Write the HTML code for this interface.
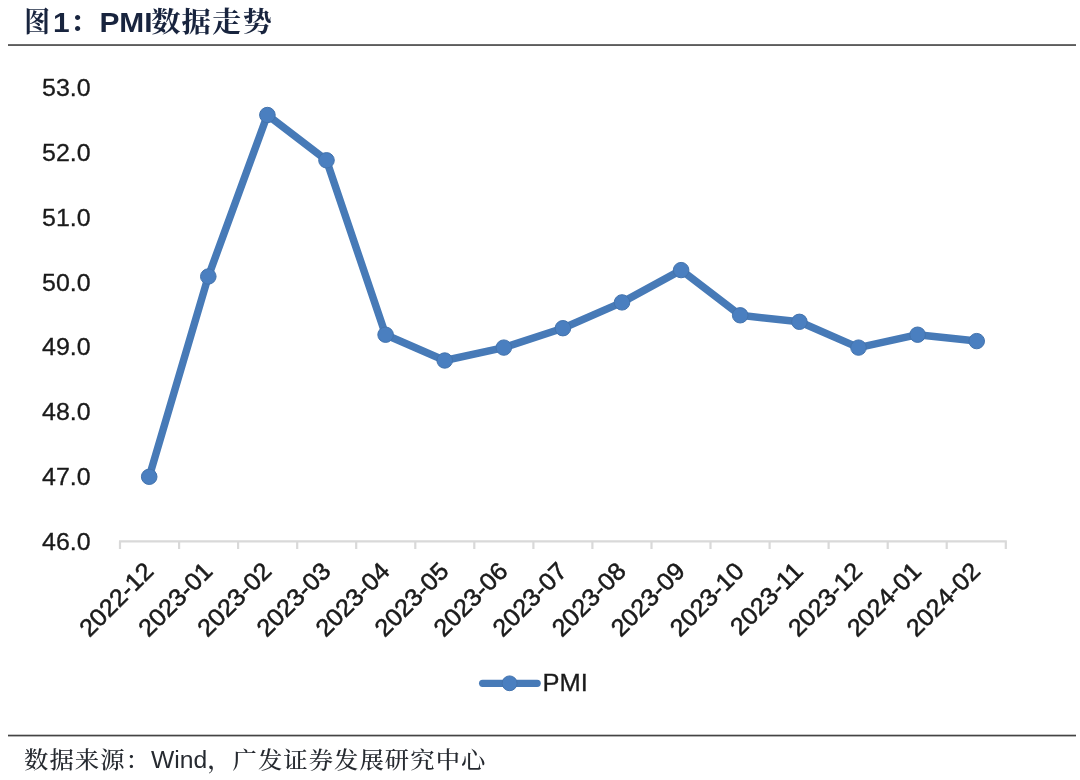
<!DOCTYPE html>
<html lang="zh-CN">
<head>
<meta charset="utf-8">
<title>图1：PMI数据走势</title>
<style>
html,body{margin:0;padding:0;background:#fff;}
body{width:1080px;height:780px;overflow:hidden;font-family:"Liberation Sans","Noto Serif CJK SC",sans-serif;}
svg{display:block;}
svg text{white-space:pre;}
svg text.ax{font-family:"Liberation Sans",sans-serif;font-size:24px;fill:#1a1a1a;stroke:#1a1a1a;stroke-width:0.3px;}
svg text.title{font-family:"Liberation Sans","Noto Serif CJK SC",serif;font-weight:bold;fill:#18243e;}
svg .tc{font-size:28px;letter-spacing:1px;}
svg .tl{font-size:28.5px;}
svg text.src{font-family:"Liberation Sans","Noto Serif CJK SC",serif;font-size:23.2px;letter-spacing:1px;fill:#262a30;font-weight:500;}
svg .sl{font-size:23.5px;letter-spacing:0;font-weight:400;}
</style>
</head>
<body>
<svg width="1080" height="780" viewBox="0 0 1080 780">
<text transform="translate(24.3 31.8) scale(0.92 1)" class="title"><tspan class="tc">图</tspan></text><text transform="translate(53.05 32.4) scale(1.05 1)" class="title"><tspan class="tl">1</tspan><tspan class="tc" dy="-0.6">：</tspan><tspan class="tl" dy="0.6" dx="-0.7">PMI</tspan><tspan class="tc" dy="-0.6" dx="-1.4">数据走势</tspan></text>
<rect x="8" y="44.1" width="1068" height="1.9" fill="#5c5c5c"/>
<path d="M119.0 541.4H1006.8" stroke="#d9d9d9" stroke-width="2.2" fill="none"/>
<path d="M120.0 541.4v7.6M179.1 541.4v7.6M238.1 541.4v7.6M297.2 541.4v7.6M356.2 541.4v7.6M415.3 541.4v7.6M474.3 541.4v7.6M533.4 541.4v7.6M592.4 541.4v7.6M651.5 541.4v7.6M710.5 541.4v7.6M769.6 541.4v7.6M828.6 541.4v7.6M887.7 541.4v7.6M946.7 541.4v7.6M1005.8 541.4v7.6" stroke="#d9d9d9" stroke-width="2.2" fill="none"/>
<text transform="translate(90.6 550.0) scale(1.04 1)" text-anchor="end" class="ax">46.0</text>
<text transform="translate(90.6 485.1) scale(1.04 1)" text-anchor="end" class="ax">47.0</text>
<text transform="translate(90.6 420.2) scale(1.04 1)" text-anchor="end" class="ax">48.0</text>
<text transform="translate(90.6 355.3) scale(1.04 1)" text-anchor="end" class="ax">49.0</text>
<text transform="translate(90.6 290.5) scale(1.04 1)" text-anchor="end" class="ax">50.0</text>
<text transform="translate(90.6 225.6) scale(1.04 1)" text-anchor="end" class="ax">51.0</text>
<text transform="translate(90.6 160.7) scale(1.04 1)" text-anchor="end" class="ax">52.0</text>
<text transform="translate(90.6 95.8) scale(1.04 1)" text-anchor="end" class="ax">53.0</text>
<text transform="translate(154.9 572.6) rotate(-45) scale(1.03 1)" text-anchor="end" class="ax" style="font-size:24.5px;stroke-width:0.55px">2022-12</text>
<text transform="translate(214.0 572.6) rotate(-45) scale(1.03 1)" text-anchor="end" class="ax" style="font-size:24.5px;stroke-width:0.55px">2023-01</text>
<text transform="translate(273.0 572.6) rotate(-45) scale(1.03 1)" text-anchor="end" class="ax" style="font-size:24.5px;stroke-width:0.55px">2023-02</text>
<text transform="translate(332.1 572.6) rotate(-45) scale(1.03 1)" text-anchor="end" class="ax" style="font-size:24.5px;stroke-width:0.55px">2023-03</text>
<text transform="translate(391.1 572.6) rotate(-45) scale(1.03 1)" text-anchor="end" class="ax" style="font-size:24.5px;stroke-width:0.55px">2023-04</text>
<text transform="translate(450.2 572.6) rotate(-45) scale(1.03 1)" text-anchor="end" class="ax" style="font-size:24.5px;stroke-width:0.55px">2023-05</text>
<text transform="translate(509.2 572.6) rotate(-45) scale(1.03 1)" text-anchor="end" class="ax" style="font-size:24.5px;stroke-width:0.55px">2023-06</text>
<text transform="translate(568.3 572.6) rotate(-45) scale(1.03 1)" text-anchor="end" class="ax" style="font-size:24.5px;stroke-width:0.55px">2023-07</text>
<text transform="translate(627.4 572.6) rotate(-45) scale(1.03 1)" text-anchor="end" class="ax" style="font-size:24.5px;stroke-width:0.55px">2023-08</text>
<text transform="translate(686.4 572.6) rotate(-45) scale(1.03 1)" text-anchor="end" class="ax" style="font-size:24.5px;stroke-width:0.55px">2023-09</text>
<text transform="translate(745.5 572.6) rotate(-45) scale(1.03 1)" text-anchor="end" class="ax" style="font-size:24.5px;stroke-width:0.55px">2023-10</text>
<text transform="translate(804.5 572.6) rotate(-45) scale(1.03 1)" text-anchor="end" class="ax" style="font-size:24.5px;stroke-width:0.55px">2023-11</text>
<text transform="translate(863.6 572.6) rotate(-45) scale(1.03 1)" text-anchor="end" class="ax" style="font-size:24.5px;stroke-width:0.55px">2023-12</text>
<text transform="translate(922.6 572.6) rotate(-45) scale(1.03 1)" text-anchor="end" class="ax" style="font-size:24.5px;stroke-width:0.55px">2024-01</text>
<text transform="translate(981.7 572.6) rotate(-45) scale(1.03 1)" text-anchor="end" class="ax" style="font-size:24.5px;stroke-width:0.55px">2024-02</text>
<path d="M149.2 476.8 L208.3 276.5 L267.4 115.0 L326.5 160.3 L385.6 334.7 L444.7 360.5 L503.8 347.6 L562.9 328.2 L622.0 302.4 L681.1 270.1 L740.2 315.3 L799.4 321.8 L858.5 347.6 L917.6 334.7 L976.7 341.1" stroke="#477ab7" stroke-width="7.5" fill="none" stroke-linejoin="round" stroke-linecap="round"/>
<ellipse cx="149.2" cy="476.8" rx="7.8" ry="7.7" fill="#4a7fc0" stroke="#4373ad" stroke-width="1"/>
<ellipse cx="208.3" cy="276.5" rx="7.8" ry="7.7" fill="#4a7fc0" stroke="#4373ad" stroke-width="1"/>
<ellipse cx="267.4" cy="115.0" rx="7.8" ry="7.7" fill="#4a7fc0" stroke="#4373ad" stroke-width="1"/>
<ellipse cx="326.5" cy="160.3" rx="7.8" ry="7.7" fill="#4a7fc0" stroke="#4373ad" stroke-width="1"/>
<ellipse cx="385.6" cy="334.7" rx="7.8" ry="7.7" fill="#4a7fc0" stroke="#4373ad" stroke-width="1"/>
<ellipse cx="444.7" cy="360.5" rx="7.8" ry="7.7" fill="#4a7fc0" stroke="#4373ad" stroke-width="1"/>
<ellipse cx="503.8" cy="347.6" rx="7.8" ry="7.7" fill="#4a7fc0" stroke="#4373ad" stroke-width="1"/>
<ellipse cx="562.9" cy="328.2" rx="7.8" ry="7.7" fill="#4a7fc0" stroke="#4373ad" stroke-width="1"/>
<ellipse cx="622.0" cy="302.4" rx="7.8" ry="7.7" fill="#4a7fc0" stroke="#4373ad" stroke-width="1"/>
<ellipse cx="681.1" cy="270.1" rx="7.8" ry="7.7" fill="#4a7fc0" stroke="#4373ad" stroke-width="1"/>
<ellipse cx="740.2" cy="315.3" rx="7.8" ry="7.7" fill="#4a7fc0" stroke="#4373ad" stroke-width="1"/>
<ellipse cx="799.4" cy="321.8" rx="7.8" ry="7.7" fill="#4a7fc0" stroke="#4373ad" stroke-width="1"/>
<ellipse cx="858.5" cy="347.6" rx="7.8" ry="7.7" fill="#4a7fc0" stroke="#4373ad" stroke-width="1"/>
<ellipse cx="917.6" cy="334.7" rx="7.8" ry="7.7" fill="#4a7fc0" stroke="#4373ad" stroke-width="1"/>
<ellipse cx="976.7" cy="341.1" rx="7.8" ry="7.7" fill="#4a7fc0" stroke="#4373ad" stroke-width="1"/>
<path d="M482.6 683.3H537.2" stroke="#477ab7" stroke-width="7.2" stroke-linecap="round" fill="none"/>
<ellipse cx="509.6" cy="683.3" rx="7.5" ry="7.4" fill="#4a7fc0" stroke="#4373ad" stroke-width="1"/>
<text transform="translate(542.6 691.3) scale(1.04 1)" class="ax" style="font-size:24.5px">PMI</text>
<rect x="8" y="734.7" width="1068" height="1.7" fill="#444"/>
<text transform="translate(24.0 768.3) scale(1.05 1)" class="src">数据来源：<tspan class="sl">Wind</tspan>，广发证券发展研究中心</text>
</svg>
</body>
</html>
